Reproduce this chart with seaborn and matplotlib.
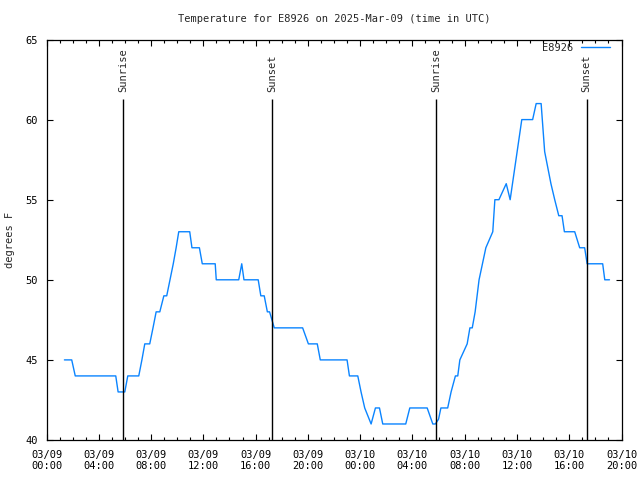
import matplotlib
matplotlib.use("Agg")
import matplotlib.pyplot as plt
import matplotlib.dates as mdates
import seaborn as sns
import pandas as pd

# hours after 2025-03-09 00:00 UTC and temperature (degrees F)
hours = [1.37, 1.93, 2.20, 5.30, 5.48, 5.99, 6.22, 7.06, 7.30, 7.52, 7.90, 8.15, 8.39, 8.67,
         8.98, 9.20, 9.45, 9.70, 9.92, 10.12, 10.96, 11.13, 11.70, 11.92, 12.91, 12.99, 14.71,
         14.94, 15.11, 16.20, 16.40, 16.66, 16.90, 17.07, 17.25, 17.43, 19.60, 20.04, 20.72,
         20.95, 23.00, 23.18, 23.82, 24.07, 24.35, 24.84, 25.17, 25.48, 25.73, 27.49, 27.80,
         29.13, 29.56, 29.76, 30.00, 30.18, 30.70, 30.96, 31.29, 31.47, 31.63, 32.19, 32.40,
         32.58, 32.80, 33.10, 33.62, 34.15, 34.31, 34.62, 35.18, 35.48, 36.37, 37.20, 37.47,
         37.85, 38.12, 38.60, 38.89, 39.20, 39.45, 39.63, 40.42, 40.80, 41.18, 41.37, 42.56,
         42.72, 43.08]
temps = [45, 45, 44, 44, 43, 43, 44, 44, 45, 46, 46, 47, 48, 48,
         49, 49, 50, 51, 52, 53, 53, 52, 52, 51, 51, 50, 50,
         51, 50, 50, 49, 49, 48, 48, 47.5, 47, 47, 46, 46,
         45, 45, 44, 44, 43, 42, 41, 42, 42, 41, 41, 42,
         42, 41, 41, 41.3, 42, 42, 43, 44, 44, 45, 46, 47,
         47, 48, 50, 52, 53, 55, 55, 56, 55, 60, 60, 61,
         61, 58, 56, 55, 54, 54, 53, 53, 52, 52, 51, 51,
         50, 50]

sun_events = ["Sunrise", "Sunset", "Sunrise", "Sunset"]
sun_times = ["2025-03-09 05:53", "2025-03-09 17:17", "2025-03-10 05:49", "2025-03-10 17:20"]

station = "E8926"
title = "Temperature for E8926 on 2025-Mar-09 (time in UTC)"
ylabel = "degrees F"

start = pd.Timestamp("2025-03-09 00:00")
df = pd.DataFrame({"time": [start + pd.Timedelta(hours=h) for h in hours], "temp": temps})

sns.set_style("ticks")
plt.rcParams["font.family"] = ["DejaVu Sans Mono", "DejaVu Sans"]
plt.rcParams["font.size"] = 7.5

fig = plt.figure(figsize=(6.4, 4.8), dpi=100)
ax = fig.add_axes([46.5 / 640, 40 / 480, 575 / 640, 400.5 / 480])

sns.lineplot(data=df, x="time", y="temp", ax=ax, color="#0a84ff", linewidth=1.0,
             label=station, estimator=None)

for ev, t in zip(sun_events, sun_times):
    tt = pd.Timestamp(t)
    ax.vlines(tt, 40, 61.3, color="black", linewidth=1.0)
    ax.text(tt, 61.75, ev, rotation=90, ha="center", va="bottom", fontsize=7.5)

ax.set_xlim(pd.Timestamp("2025-03-09 00:00"), pd.Timestamp("2025-03-10 20:00"))
ax.set_ylim(40, 65)
ax.set_yticks([40, 45, 50, 55, 60, 65])
ax.xaxis.set_major_locator(mdates.HourLocator(byhour=range(0, 24, 4)))
ax.xaxis.set_minor_locator(mdates.HourLocator(interval=1))
ax.xaxis.set_major_formatter(mdates.DateFormatter("%m/%d\n%H:%M"))
ax.set_xlabel("")
ax.set_ylabel("")

for s in ax.spines.values():
    s.set_visible(True)
    s.set_linewidth(0.9)
    s.set_color("black")
ax.tick_params(which="both", direction="in", top=True, right=True, colors="black",
               labelsize=7.5, width=0.8)
ax.tick_params(which="major", length=4.5)
ax.tick_params(which="minor", length=2.2)
ax.tick_params(axis="x", which="major", pad=7)
ax.tick_params(axis="y", which="major", pad=6)

leg = ax.legend(loc="upper right", bbox_to_anchor=(0.98, 0.992), frameon=False,
                markerfirst=False, handlelength=2.8, handletextpad=0.75,
                borderpad=0, borderaxespad=0, fontsize=7.5)

fig.text(334 / 640, 1 - 19 / 480, title, ha="center", va="center", fontsize=7.5)
fig.text(10 / 640, 0.5, ylabel, rotation=90, ha="center", va="center", fontsize=7.5)

fig.savefig("out.png", dpi=100)
